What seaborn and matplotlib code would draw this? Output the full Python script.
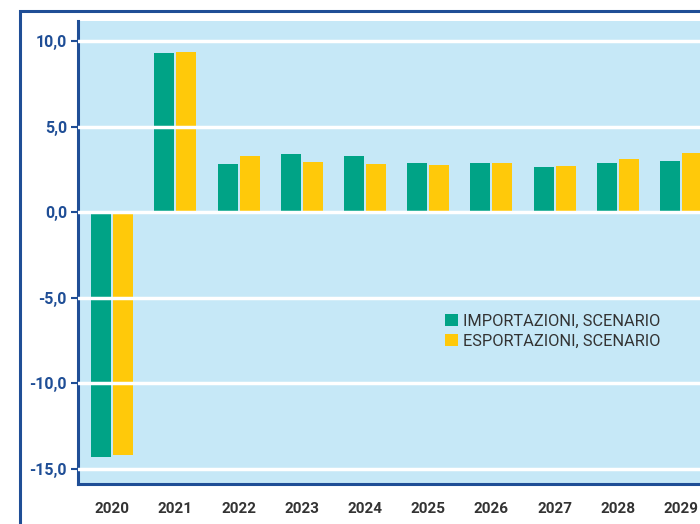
import pandas as pd
import matplotlib.pyplot as plt
from matplotlib.patches import Rectangle
from matplotlib.ticker import FuncFormatter
import seaborn as sns

# Variazioni percentuali annue
anni = ["2020", "2021", "2022", "2023", "2024", "2025", "2026", "2027", "2028", "2029"]
importazioni = [-14.33, 9.28, 2.83, 3.42, 3.30, 2.89, 2.89, 2.66, 2.85, 3.01]
esportazioni = [-14.22, 9.34, 3.30, 2.95, 2.83, 2.77, 2.89, 2.72, 3.13, 3.48]
serie = ["IMPORTAZIONI, SCENARIO", "ESPORTAZIONI, SCENARIO"]
colori = ["#00a386", "#ffc90a"]
yticks = [-15, -10, -5, 0, 5, 10]

df = pd.DataFrame({
    "anno": anni * 2,
    "valore": importazioni + esportazioni,
    "serie": [serie[0]] * len(anni) + [serie[1]] * len(anni),
})

blu = "#1f4e96"

sns.set_theme(style="white")
plt.rcParams["font.family"] = ["Roboto", "DejaVu Sans"]

fig = plt.figure(figsize=(7, 5.24), dpi=100)
ax = fig.add_axes([78 / 700, 40 / 524, 622 / 700, 463 / 524])

sns.barplot(data=df, x="anno", y="valore", hue="serie", hue_order=serie,
            palette=colori, saturation=1, width=0.696, gap=0.09,
            edgecolor="none", errorbar=None, ax=ax)

ax.set_xlim(-0.54, 9.30)
ax.set_ylim(-15.9, 11.17)
ax.set_facecolor("#c6e8f7")
ax.set_xlabel("")
ax.set_ylabel("")

# griglia bianca sopra le barre
ax.set_yticks(yticks)
ax.yaxis.grid(True, color="white", linewidth=2.5)
ax.set_axisbelow(False)
ax.yaxis.set_major_formatter(FuncFormatter(lambda v, _: f"{v:.1f}".replace(".", ",")))

for s in ["top", "right"]:
    ax.spines[s].set_visible(False)
for s in ["left", "bottom"]:
    ax.spines[s].set_color(blu)
    ax.spines[s].set_linewidth(2.2)

ax.tick_params(axis="y", left=True, length=5, width=1.5, color=blu,
               labelcolor=blu, labelsize=11.5, pad=3)
ax.tick_params(axis="x", length=0, pad=13, labelcolor="#333333", labelsize=11)
for lab in ax.get_xticklabels() + ax.get_yticklabels():
    lab.set_fontweight("bold")

handles, labels = ax.get_legend_handles_labels()
ax.legend(handles, labels, loc="upper left", bbox_to_anchor=(438 / 700, 1 - 307 / 524),
          bbox_transform=fig.transFigure, frameon=False, fontsize=11.8,
          handlelength=0.8, handleheight=0.8, handletextpad=0.35,
          labelspacing=0.3, labelcolor="#333333", borderaxespad=0)

# cornice esterna
fig.add_artist(Rectangle((19.5 / 700, -0.1), 1.2, 1 - 11.5 / 524 + 0.1,
                         transform=fig.transFigure, fill=False,
                         edgecolor=blu, linewidth=2.2, clip_on=False))

fig.savefig("out.png", dpi=100)
